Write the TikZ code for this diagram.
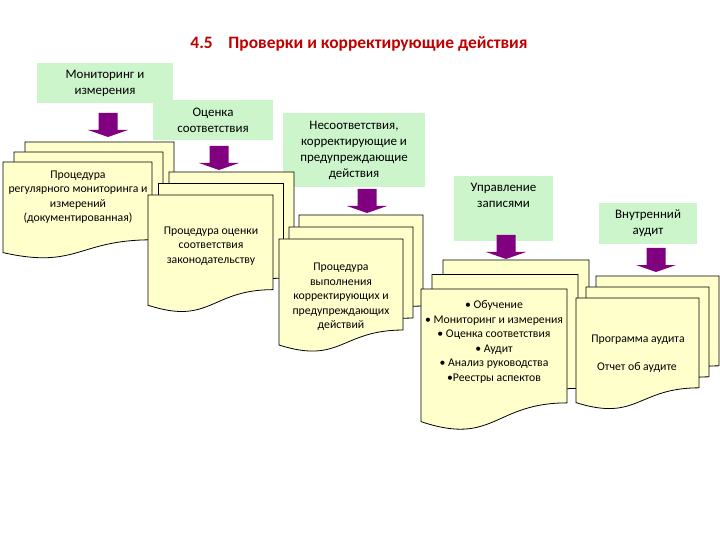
\documentclass[tikz,border=0pt]{standalone}
\usepackage{fontspec}
\setmainfont{Carlito}
\usetikzlibrary{positioning}
\definecolor{boxgreen}{RGB}{204,245,204}
\definecolor{sheetyellow}{RGB}{255,255,204}
\definecolor{arrowpurple}{RGB}{128,0,128}
\definecolor{titlered}{RGB}{192,0,0}
\tikzset{
  greenbox/.style={fill=boxgreen, align=center, inner sep=2bp, font=\fontsize{13}{16}\selectfont},
  doctext/.style={align=center, inner sep=0pt, font=\fontsize{11.8}{14.5}\selectfont},
  sheet/.style={fill=sheetyellow, draw=black, line width=0.8bp},
  titletext/.style={text=titlered, font=\fontsize{17.5}{20}\selectfont\bfseries}
}
\newcommand{\docsheet}[4]{%
  \filldraw[sheet] ({#1},{#2}) -- ({#1+#3},{#2}) -- ({#1+#3},{#2+0.802*#4})
    .. controls ({#1+0.5*#3},{#2+0.802*#4}) and ({#1+0.5*#3},{#2+1.1075*#4}) .. ({#1},{#2+0.934*#4}) -- cycle;}
\newcommand{\docstack}[6]{%
  \foreach \k in {2,1,0}{\docsheet{#1+\k*#5}{#2-\k*#6}{#3}{#4}}}
\begin{document}
\begin{tikzpicture}[x=1bp,y=-1bp]
\fill[white] (0,0) rectangle (720,540);
\useasboundingbox (0,0) rectangle (720,540);
\node[titletext] (title) at (359,44) {4.5\hspace{0.9em}Проверки и корректирующие действия};
\node[greenbox, minimum width=136bp, minimum height=40bp] (monbox) at (105,83) {Мониторинг и\\измерения};
\node[greenbox, minimum width=120bp, minimum height=40bp] (confbox) at (213,120) {Оценка\\соответствия};
\node[greenbox, minimum width=142bp, minimum height=74bp] (ncbox) at (354,150) {Несоответствия,\\корректирующие и\\предупреждающие\\действия};
\node[greenbox, minimum width=99bp, minimum height=65bp] (recbox) at (503.5,208.5) {};
\node[greenbox, fill=none, below=5bp of recbox.north] (rec) {Управление\\записями};
\node[greenbox, minimum width=98bp, minimum height=41bp] (audbox) at (648,223.5) {Внутренний\\аудит};
\docstack{3}{162}{149}{97}{11}{10}
\node[doctext] (procmon) at (78,197) {Процедура\\регулярного мониторинга и\\измерений\\(документированная)};
\docstack{148}{195}{125}{118}{10.5}{11.5}
\node[doctext] (procconf) at (211,246) {Процедура оценки\\соответствия\\законодательству};
\docstack{279}{239}{124}{113.5}{10}{12}
\node[doctext] (proccor) at (341,297) {Процедура\\выполнения\\корректирующих и\\предупреждающих\\действий};
\docstack{421}{289}{146}{142}{11}{14.5}
\node[doctext] (reclist) at (494,342) {• Обучение\\• Мониторинг и измерения\\• Оценка соответствия\\• Аудит\\• Анализ руководства\\•Реестры аспектов};
\docstack{576}{298}{123}{112}{10}{11}
\node[doctext] (audprog) at (638,340) {Программа аудита};
\node[doctext] (audrep) at (637,367) {Отчет об аудите};
\foreach \ax/\ay in {108/113, 219/146, 367/189, 506/235, 656/248}
  \fill[arrowpurple] ({\ax-9.5},\ay) -- ({\ax+9.5},\ay) -- ({\ax+9.5},{\ay+17}) -- ({\ax+20},{\ay+17})
    -- (\ax,{\ay+24}) -- ({\ax-20},{\ay+17}) -- ({\ax-9.5},{\ay+17}) -- cycle;
\end{tikzpicture}
\end{document}
